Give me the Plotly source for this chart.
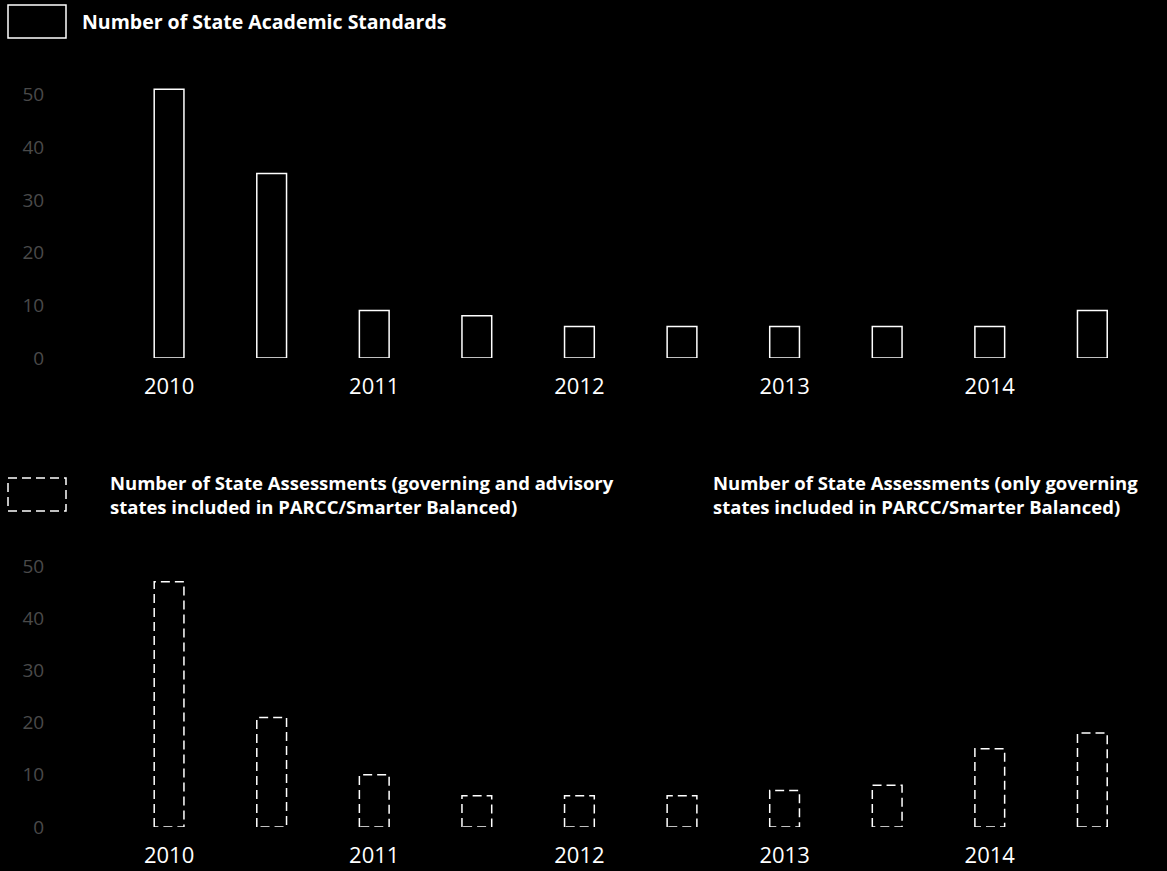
import plotly.graph_objects as go

# Half-year reporting periods (bars), labelled once per year
periods = [2010, 2010.5, 2011, 2011.5, 2012, 2012.5, 2013, 2013.5, 2014, 2014.5]
year_ticks = [2010, 2011, 2012, 2013, 2014]
year_labels = ["2010", "2011", "2012", "2013", "2014"]

# Number of State Academic Standards
standards = [51, 35, 9, 8, 6, 6, 6, 6, 6, 9]
# Number of State Assessments (governing and advisory states included in PARCC/Smarter Balanced)
assessments = [47, 21, 10, 6, 6, 6, 7, 8, 15, 18]

value_ticks = [0, 10, 20, 30, 40, 50]

title_top = "Number of State Academic Standards"
title_bottom_left = "Number of State Assessments (governing and advisory<br>states included in PARCC/Smarter Balanced)"
title_bottom_right = "Number of State Assessments (only governing<br>states included in PARCC/Smarter Balanced)"

W, H = 1167, 871
BAR_W = 0.145
FONT = "Open Sans"


def py(px):
    """Convert a pixel row (from the top) to paper coordinates."""
    return 1 - px / H


def px_x(px):
    return px / W


# Dashed bar outlines built from the data values
def outline_path(xs, vals, w):
    ox, oy = [], []
    for x, v in zip(xs, vals):
        ox += [x - w / 2, x - w / 2, x + w / 2, x + w / 2, x - w / 2, None]
        oy += [0, v, v, 0, 0, None]
    return ox, oy


fig = go.Figure()

fig.add_trace(go.Bar(
    x=periods, y=standards, width=BAR_W,
    marker=dict(color="black", line=dict(color="white", width=1.5)),
    xaxis="x", yaxis="y", showlegend=False, hoverinfo="skip",
))

ax, ay = outline_path(periods, assessments, BAR_W)
fig.add_trace(go.Scatter(
    x=ax, y=ay, mode="lines",
    line=dict(color="white", width=1.5, dash="9px,5px"),
    xaxis="x2", yaxis="y2", showlegend=False, hoverinfo="skip",
))

x_range = [2009.444, 2014.781]
common_x = dict(
    range=x_range, tickvals=year_ticks, ticktext=year_labels,
    showgrid=False, zeroline=False, showline=False,
    ticks="outside", ticklen=9, tickcolor="black",
    tickfont=dict(family=FONT, size=22, color="white"),
    automargin=False,
)
common_y = dict(
    tickvals=value_ticks, showgrid=False, zeroline=False, showline=False,
    ticks="outside", ticklen=6, tickcolor="black",
    tickfont=dict(family=FONT, size=19, color="#4a4a4a"),
    automargin=False,
)

fig.update_layout(
    width=W, height=H,
    margin=dict(l=0, r=0, t=0, b=0),
    paper_bgcolor="black", plot_bgcolor="black",
    showlegend=False,
    xaxis=dict(domain=[px_x(55), px_x(1150)], anchor="y", **common_x),
    yaxis=dict(domain=[py(358), py(80)], range=[0, 52.75], anchor="x", **common_y),
    xaxis2=dict(domain=[px_x(55), px_x(1150)], anchor="y2", **common_x),
    yaxis2=dict(domain=[py(827), py(560)], range=[0, 51.15], anchor="x2", **common_y),
)

# Heading swatches
fig.add_shape(type="rect", xref="paper", yref="paper",
              x0=px_x(8), x1=px_x(66), y0=py(38), y1=py(5),
              line=dict(color="white", width=1.5), fillcolor="black")
fig.add_shape(type="rect", xref="paper", yref="paper",
              x0=px_x(8), x1=px_x(66), y0=py(511), y1=py(478),
              line=dict(color="white", width=1.5, dash="9px,5px"), fillcolor="black")

fig.add_annotation(text=f"<b>{title_top}</b>", xref="paper", yref="paper",
                   x=px_x(80), y=py(22), xanchor="left", yanchor="middle",
                   showarrow=False, font=dict(family=FONT, size=19.5, color="white"),
                   align="left")
bottom_font = dict(family=FONT, size=18.5, color="white")
fig.add_annotation(text=f"<b>{title_bottom_left}</b>", xref="paper", yref="paper",
                   x=px_x(108), y=py(494), xanchor="left", yanchor="middle",
                   showarrow=False, font=bottom_font, align="left")
fig.add_annotation(text=f"<b>{title_bottom_right}</b>", xref="paper", yref="paper",
                   x=px_x(711), y=py(494), xanchor="left", yanchor="middle",
                   showarrow=False, font=bottom_font, align="left")

fig.write_html("out.html")
